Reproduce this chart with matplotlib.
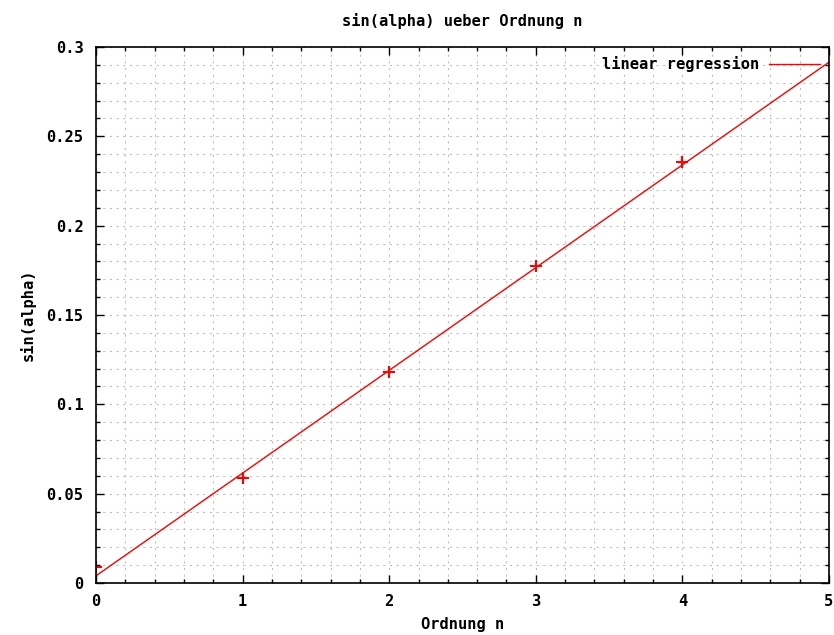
import matplotlib
matplotlib.use("Agg")
import matplotlib.pyplot as plt
import numpy as np
from matplotlib.ticker import MultipleLocator

# Data
order_n = [0, 1, 2, 3, 4]
sin_alpha = [0.009, 0.0588, 0.118, 0.1772, 0.2358]
fit_slope = 0.0575
fit_intercept = 0.0040
fit_x = [0, 5]

plt.rcParams['font.family'] = ['DejaVu Sans Mono']
plt.rcParams['font.weight'] = 'bold'
FS = 11.1

fig = plt.figure(figsize=(8.34, 6.35), dpi=100)
ax = fig.add_axes([0.1151, 0.0819, 0.8789, 0.8441])

fy = [fit_slope * x + fit_intercept for x in fit_x]
ax.plot(fit_x, fy, color='#ff0000', lw=1.0, label='linear regression')
ax.plot(order_n, sin_alpha, linestyle='none', marker='+', color='#ff0000',
        markersize=9, markeredgewidth=1.5, clip_on=True)

ax.set_xlim(0, 5)
ax.set_ylim(0, 0.3)
ax.xaxis.set_major_locator(MultipleLocator(1))
ax.xaxis.set_minor_locator(MultipleLocator(0.2))
ax.yaxis.set_major_locator(MultipleLocator(0.05))
ax.yaxis.set_minor_locator(MultipleLocator(0.01))

def yfmt(v, pos):
    return '%g' % round(v, 4)
ax.yaxis.set_major_formatter(plt.FuncFormatter(yfmt))

ax.grid(which='both', color='#c0c0c0', linestyle=(0, (2, 4)), linewidth=0.8)
ax.tick_params(which='both', direction='in', top=True, right=True,
               labelsize=FS, width=1)
ax.tick_params(which='major', length=6)
ax.tick_params(axis='y', which='major', pad=9)
ax.tick_params(axis='x', which='major', pad=8)
ax.tick_params(which='minor', length=3)
for lab in ax.get_xticklabels() + ax.get_yticklabels():
    lab.set_fontweight('bold')
for sp in ax.spines.values():
    sp.set_linewidth(1.2)

ax.set_title('sin(alpha) ueber Ordnung n', fontsize=FS, fontweight='bold', pad=15)
ax.set_xlabel('Ordnung n', fontsize=FS, fontweight='bold', labelpad=6)
ax.set_ylabel('sin(alpha)', fontsize=FS, fontweight='bold', labelpad=8)

leg = ax.legend(loc='upper right', frameon=False, fontsize=FS,
                handlelength=3.3, markerfirst=False, borderaxespad=0.2,
                handletextpad=0.6)
for t in leg.get_texts():
    t.set_fontweight('bold')

fig.savefig('out.png', dpi=100)
